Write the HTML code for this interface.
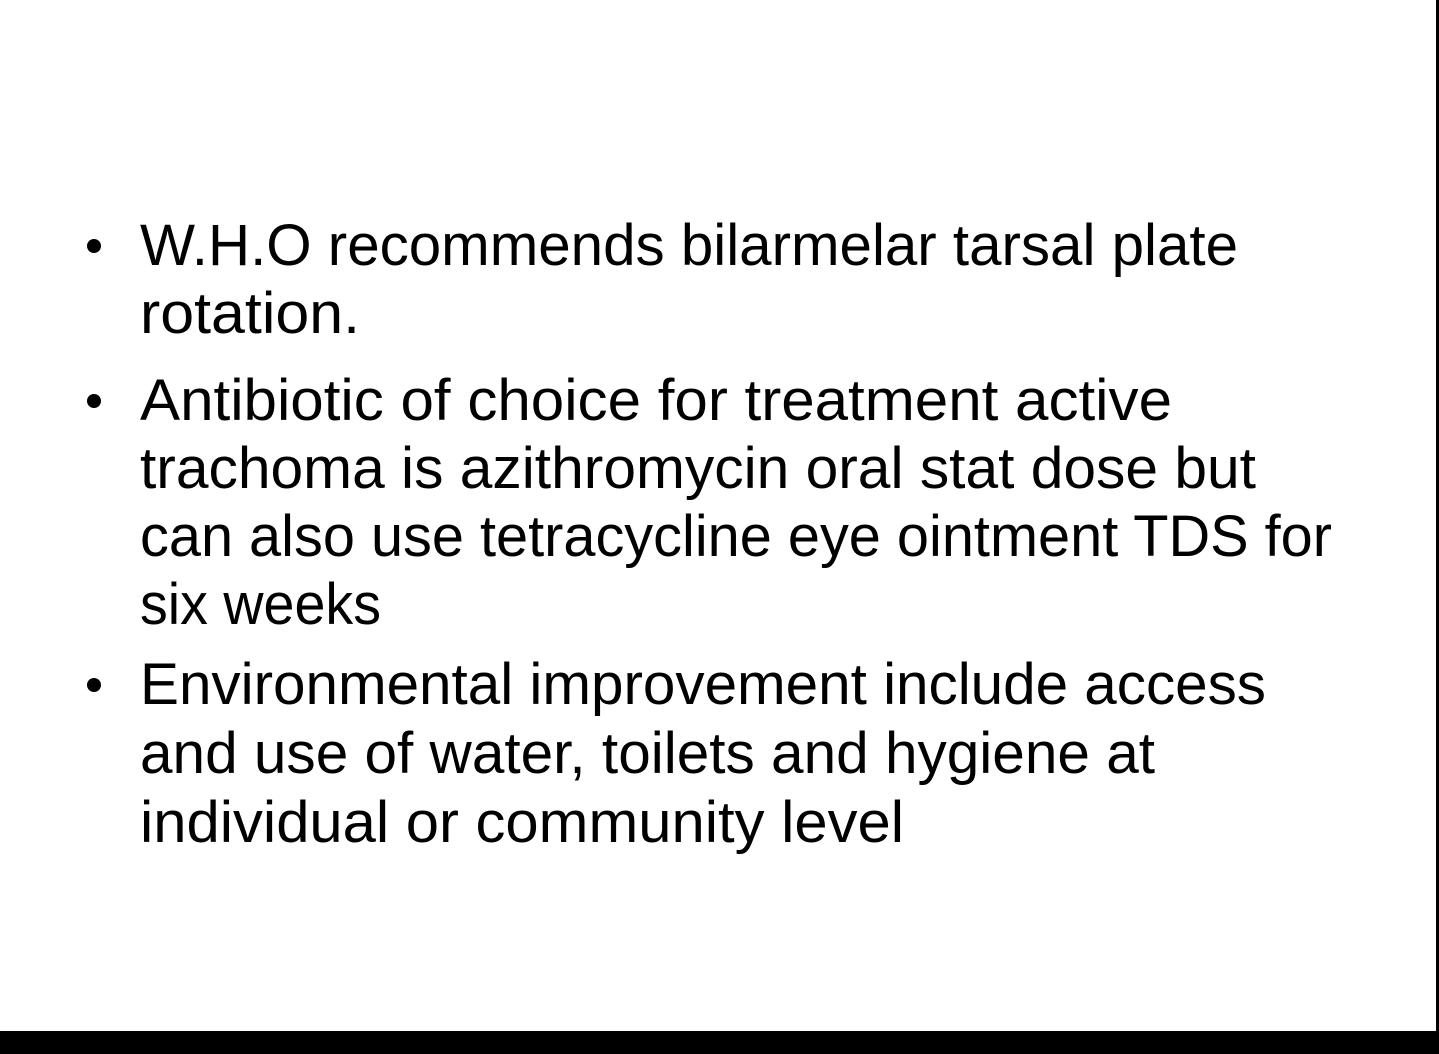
<!DOCTYPE html>
<html><head><meta charset="utf-8"><style>
html,body{margin:0;padding:0;background:#fff;}
#slide{position:relative;width:1439px;height:1054px;overflow:hidden;background:#fff;}
</style></head><body>
<div id="slide">
<svg width="1439" height="1054" style="position:absolute;left:0;top:0">
<rect x="1436" y="0" width="3" height="1054" fill="#000"/>
<rect x="0" y="1031" width="1439" height="23" fill="#000"/>
<g font-family="Liberation Sans, sans-serif" font-size="58" fill="#000">
<circle cx="94" cy="246" r="7"/>
<text x="140" y="265" textLength="1098" lengthAdjust="spacingAndGlyphs">W.H.O recommends bilarmelar tarsal plate</text>
<text x="140" y="333" textLength="220" lengthAdjust="spacingAndGlyphs">rotation.</text>
<circle cx="94" cy="401" r="7"/>
<text x="140" y="420" textLength="1032" lengthAdjust="spacingAndGlyphs">Antibiotic of choice for treatment active</text>
<text x="140" y="488" textLength="1116" lengthAdjust="spacingAndGlyphs">trachoma is azithromycin oral stat dose but</text>
<text x="140" y="556" textLength="1192" lengthAdjust="spacingAndGlyphs">can also use tetracycline eye ointment TDS for</text>
<text x="140" y="624" textLength="241" lengthAdjust="spacingAndGlyphs">six weeks</text>
<circle cx="94" cy="685" r="7"/>
<text x="140" y="704" textLength="1126" lengthAdjust="spacingAndGlyphs">Environmental improvement include access</text>
<text x="140" y="773" textLength="1015" lengthAdjust="spacingAndGlyphs">and use of water, toilets and hygiene at</text>
<text x="140" y="842" textLength="764" lengthAdjust="spacingAndGlyphs">individual or community level</text>
</g>
</svg>
</div>
</body></html>
